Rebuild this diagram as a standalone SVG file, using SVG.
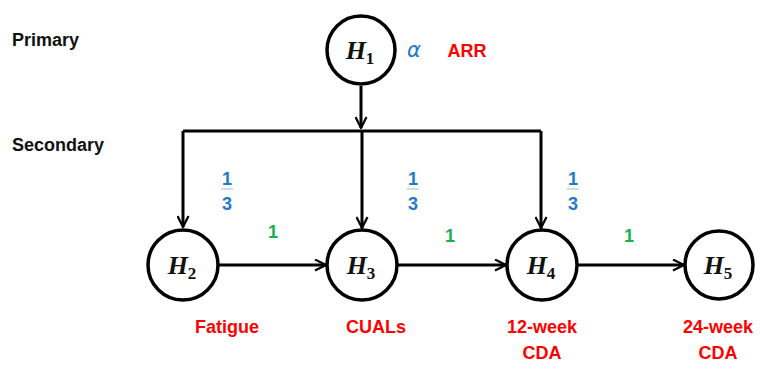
<svg xmlns="http://www.w3.org/2000/svg" width="760" height="365" viewBox="0 0 760 365">
<defs>
<style>
.node circle{fill:#fff;stroke:#000;stroke-width:3.5}
.h{font-family:"Liberation Serif",serif;font-weight:bold;font-style:italic;font-size:26px;fill:#111}
.sub{font-size:17px;font-style:normal}
.lbl{font-family:"Liberation Sans",Arial,sans-serif;font-weight:bold;font-size:18px}
.red{fill:#ff0000}
.blue{fill:#1f7ac8}
.green{fill:#1aaf50}
.blk{fill:#111}
.conn line,.conn path{stroke:#000;stroke-width:3;fill:none}
</style>
<marker id="arr" viewBox="0 0 13 13" refX="12" refY="6.5" markerWidth="13" markerHeight="13" markerUnits="userSpaceOnUse" orient="auto">
<path d="M1,1 L12,6.5 L1,12" fill="none" stroke="#000" stroke-width="2.2"/>
</marker>
</defs>
<rect width="760" height="365" fill="#fff"/>
<text class="lbl blk" x="12" y="46">Primary</text>
<text class="lbl blk" x="12" y="151">Secondary</text>
<g class="conn" id="connectors">
<line x1="361" y1="86" x2="361" y2="128" marker-end="url(#arr)"/>
<path d="M183,131 L541,131"/>
<line x1="183" y1="131" x2="183" y2="227" marker-end="url(#arr)"/>
<line x1="362" y1="131" x2="362" y2="228" marker-end="url(#arr)"/>
<line x1="541" y1="131" x2="541" y2="228" marker-end="url(#arr)"/>
<line x1="219" y1="265" x2="326" y2="265" marker-end="url(#arr)"/>
<line x1="398" y1="265" x2="506" y2="265" marker-end="url(#arr)"/>
<line x1="578" y1="265" x2="684" y2="265" marker-end="url(#arr)"/>
</g>
<g id="weights">
<text class="lbl blue" x="227" y="185" text-anchor="middle">1</text>
<line x1="221" y1="189" x2="233" y2="189" stroke="#9bbbd9" stroke-width="1"/>
<text class="lbl blue" x="227" y="210" text-anchor="middle">3</text>
<text class="lbl blue" x="413" y="185" text-anchor="middle">1</text>
<line x1="407" y1="189" x2="419" y2="189" stroke="#9bbbd9" stroke-width="1"/>
<text class="lbl blue" x="413" y="210" text-anchor="middle">3</text>
<text class="lbl blue" x="573" y="185" text-anchor="middle">1</text>
<line x1="567" y1="189" x2="579" y2="189" stroke="#9bbbd9" stroke-width="1"/>
<text class="lbl blue" x="573" y="210" text-anchor="middle">3</text>
<text class="lbl green" x="273" y="238" text-anchor="middle">1</text>
<text class="lbl green" x="450" y="242" text-anchor="middle">1</text>
<text class="lbl green" x="629" y="242" text-anchor="middle">1</text>
</g>
<g id="H1" class="node">
<circle cx="361" cy="50" r="34"/>
<text class="h" x="360" y="59" text-anchor="middle">H<tspan class="sub" dy="5">1</tspan></text>
<text x="414" y="57" text-anchor="middle" font-family="DejaVu Sans,sans-serif" font-style="italic" font-size="21" class="blue">α</text>
<text class="lbl red" x="467" y="57" text-anchor="middle">ARR</text>
</g>
<g id="H2" class="node">
<circle cx="183" cy="265" r="35"/>
<text class="h" x="182" y="274" text-anchor="middle">H<tspan class="sub" dy="5">2</tspan></text>
<text class="lbl red" x="227" y="333" text-anchor="middle">Fatigue</text>
</g>
<g id="H3" class="node">
<circle cx="362" cy="265" r="35"/>
<text class="h" x="361" y="274" text-anchor="middle">H<tspan class="sub" dy="5">3</tspan></text>
<text class="lbl red" x="376" y="333" text-anchor="middle">CUALs</text>
</g>
<g id="H4" class="node">
<circle cx="542" cy="265" r="35"/>
<text class="h" x="541" y="274" text-anchor="middle">H<tspan class="sub" dy="5">4</tspan></text>
<text class="lbl red" x="542" y="333" text-anchor="middle">12-week</text>
<text class="lbl red" x="542" y="359" text-anchor="middle">CDA</text>
</g>
<g id="H5" class="node">
<circle cx="719" cy="265" r="34"/>
<text class="h" x="718" y="274" text-anchor="middle">H<tspan class="sub" dy="5">5</tspan></text>
<text class="lbl red" x="718" y="333" text-anchor="middle">24-week</text>
<text class="lbl red" x="718" y="359" text-anchor="middle">CDA</text>
</g>
</svg>
